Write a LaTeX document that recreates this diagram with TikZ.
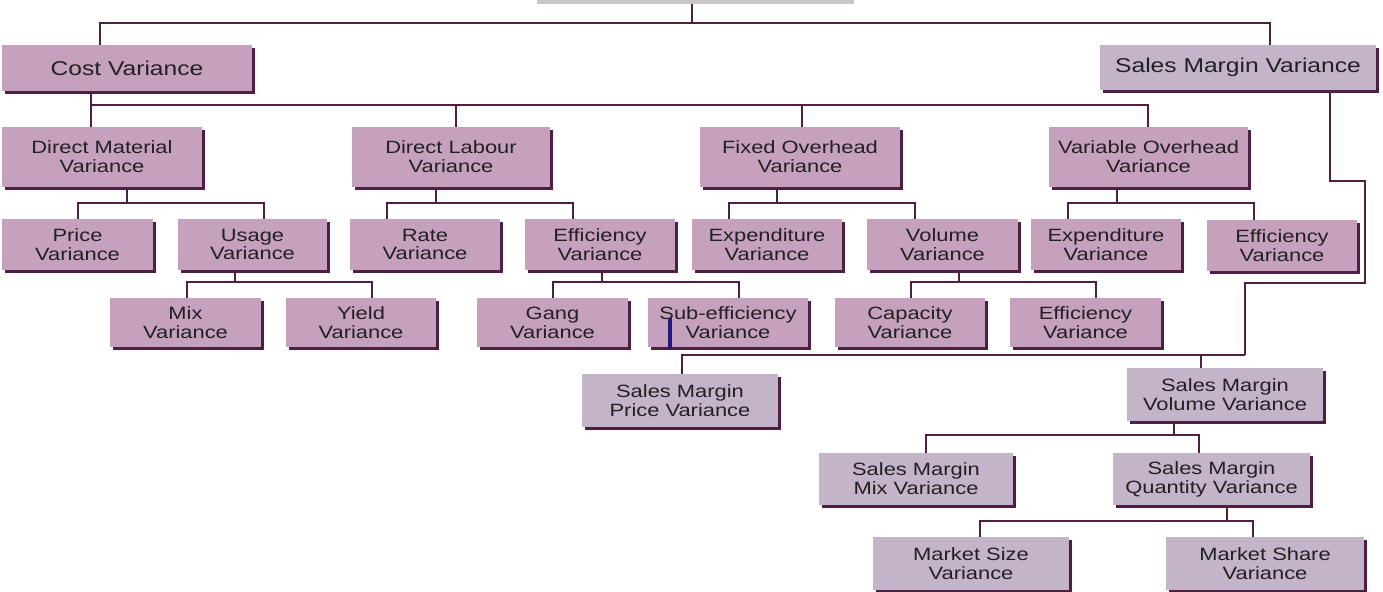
\documentclass[tikz,border=0pt]{standalone}
\usepackage{fontspec}
\setmainfont{Liberation Sans}[FakeStretch=1.23]
\usepackage{xcolor}
\usepackage{tikz}
\usetikzlibrary{positioning, shadows}

\definecolor{mauve}{RGB}{197,161,189}
\definecolor{lilac}{RGB}{195,180,201}
\definecolor{rootgray}{RGB}{200,196,199}
\definecolor{plum}{RGB}{78,30,68}
\definecolor{inktext}{RGB}{34,32,34}
\definecolor{caretblue}{RGB}{30,28,130}

\begin{document}
\begin{tikzpicture}[
    x=0.5pt, y=-0.5pt,
    sz/.style 2 args={minimum width=#1*0.5pt, minimum height=#2*0.5pt},
    box_style/.style={rectangle, fill=mauve, inner sep=0pt, align=center, text=inktext,
        font=\fontsize{8.9}{9.4}\selectfont,
        drop shadow={shadow xshift=1.5pt, shadow yshift=-1.5pt, fill=plum, opacity=1}},
    sales_style/.style={box_style, fill=lilac},
    head_style/.style={font=\fontsize{10}{11}\selectfont},
    link_style/.style={plum, line width=1.1pt}
]
    \useasboundingbox (0,0) rectangle (1383,591);

    % Root (cut off at the top)
    \node[rectangle, fill=rootgray, sz={317}{58}] (root) at (695.5,-25) {};

    % Main branches
    \node[box_style, head_style, sz={250}{46}] (cost) at (127,68) {Cost Variance};
    \node[sales_style, head_style, sz={276}{45}] (smv) at (1238,67.5) {Sales Margin Variance};

    % Cost variances
    \node[box_style, sz={200}{60}] (dmv) at (102,157) {Direct Material\\Variance};
    \node[box_style, sz={198}{60}] (dlv) at (451,157) {Direct Labour\\Variance};
    \node[box_style, sz={200}{60}] (fov) at (800,157) {Fixed Overhead\\Variance};
    \node[box_style, sz={199}{60}] (vov) at (1148.5,157) {Variable Overhead\\Variance};

    \node[box_style, sz={151}{51}] (price) at (77.5,244.5) {Price\\Variance};
    \node[box_style, sz={149}{51}] (usage) at (252.5,244.5) {Usage\\Variance};
    \node[box_style, sz={150}{51}] (rate) at (425,244.5) {Rate\\Variance};
    \node[box_style, sz={150}{51}] (labeff) at (600,244.5) {Efficiency\\Variance};
    \node[box_style, sz={150}{51}] (fixexp) at (767,244.5) {Expenditure\\Variance};
    \node[box_style, sz={151}{51}] (volume) at (942.5,244.5) {Volume\\Variance};
    \node[box_style, sz={150}{51}] (varexp) at (1106,244.5) {Expenditure\\Variance};
    \node[box_style, sz={150}{51}] (vareff) at (1282,245.5) {Efficiency\\Variance};

    \node[box_style, sz={151}{49}] (mix) at (185.5,322.5) {Mix\\Variance};
    \node[box_style, sz={150}{49}] (yield) at (361,322.5) {Yield\\Variance};
    \node[box_style, sz={151}{49}] (gang) at (552.5,322.5) {Gang\\Variance};
    \node[box_style, sz={160}{49}] (subeff) at (728,322.5) {Sub-efficiency\\Variance};
    \node[box_style, sz={150}{49}] (capacity) at (910,322.5) {Capacity\\Variance};
    \node[box_style, sz={151}{49}] (voleff) at (1085.5,322.5) {Efficiency\\Variance};

    % Sales margin variances
    \node[sales_style, sz={196}{53}] (smprice) at (680,400.5) {Sales Margin\\Price Variance};
    \node[sales_style, sz={196}{53}] (smvolume) at (1225,394.5) {Sales Margin\\Volume Variance};
    \node[sales_style, sz={194}{52}] (smmix) at (916,479) {Sales Margin\\Mix Variance};
    \node[sales_style, sz={197}{52}] (smqty) at (1211.5,479) {Sales Margin\\Quantity Variance};
    \node[sales_style, sz={196}{53}] (msize) at (971,563.5) {Market Size\\Variance};
    \node[sales_style, sz={198}{53}] (mshare) at (1265,563.5) {Market Share\\Variance};

    % Top level links
    \draw[link_style] (root.south -| 692,0) -- (692,23);
    \draw[link_style] (cost.north -| 100,0) -- (100,23) -- (1270,23) -- (smv.north -| 1270,0);

    % Cost variance links
    \draw[link_style] (cost.south -| 91,0) -- (dmv.north -| 91,0);
    \draw[link_style] (91,105) -- (1148,105) -- (vov.north -| 1148,0);
    \draw[link_style] (dlv.north -| 456,0) -- (456,105);
    \draw[link_style] (fov.north -| 802,0) -- (802,105);

    \draw[link_style] (dmv.south -| 127,0) -- (127,203);
    \draw[link_style] (price.north -| 78,0) -- (78,203) -- (264,203) -- (usage.north -| 264,0);
    \draw[link_style] (dlv.south -| 436,0) -- (436,203);
    \draw[link_style] (rate.north -| 387,0) -- (387,203) -- (573,203) -- (labeff.north -| 573,0);
    \draw[link_style] (fov.south -| 777,0) -- (777,203);
    \draw[link_style] (fixexp.north -| 729,0) -- (729,203) -- (915,203) -- (volume.north -| 915,0);
    \draw[link_style] (vov.south -| 1117,0) -- (1117,203);
    \draw[link_style] (varexp.north -| 1068,0) -- (1068,203) -- (1254,203) -- (vareff.north -| 1254,0);

    \draw[link_style] (usage.south -| 235,0) -- (235,282);
    \draw[link_style] (mix.north -| 187,0) -- (187,282) -- (372,282) -- (yield.north -| 372,0);
    \draw[link_style] (labeff.south -| 602,0) -- (602,282);
    \draw[link_style] (gang.north -| 553,0) -- (553,282) -- (739,282) -- (subeff.north -| 739,0);
    \draw[link_style] (volume.south -| 959,0) -- (959,282);
    \draw[link_style] (capacity.north -| 911,0) -- (911,282) -- (1096,282) -- (voleff.north -| 1096,0);

    % Sales margin links
    \draw[link_style] (smv.south -| 1330,0) -- (1330,181) -- (1365,181) -- (1365,283)
        -- (1245,283) -- (1245,355);
    \draw[link_style] (smprice.north -| 682,0) -- (682,355) -- (1245,355);
    \draw[link_style] (smvolume.north -| 1201,0) -- (1201,355);

    \draw[link_style] (smvolume.south -| 1174,0) -- (1174,435);
    \draw[link_style] (smmix.north -| 926,0) -- (926,435) -- (1199,435) -- (smqty.north -| 1199,0);
    \draw[link_style] (smqty.south -| 1227,0) -- (1227,521);
    \draw[link_style] (msize.north -| 980,0) -- (980,521) -- (1253,521) -- (mshare.north -| 1253,0);

    % caret mark
    \draw[caretblue, line width=1.8pt] (670,318) -- (670,349);
\end{tikzpicture}
\end{document}
